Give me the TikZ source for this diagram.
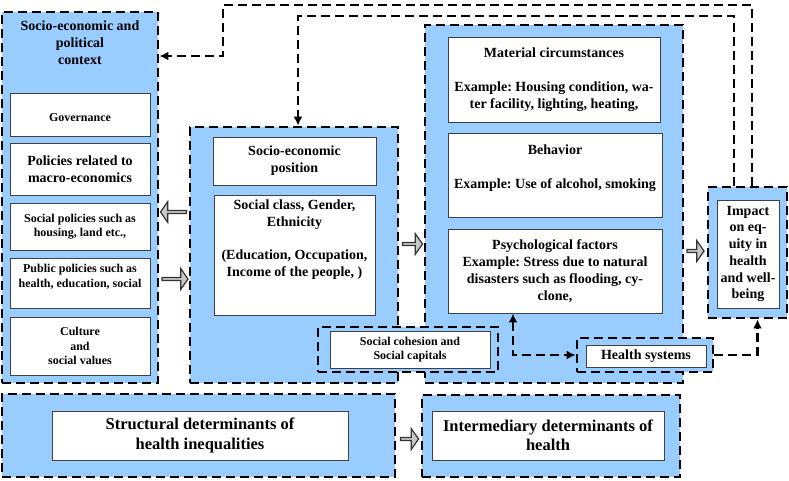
\documentclass[tikz,border=0pt]{standalone}
\usepackage{fontspec}
\setmainfont{Liberation Serif}
\usetikzlibrary{shapes.arrows,arrows.meta}
\frenchspacing

\definecolor{panelblue}{HTML}{99CCFF}
\definecolor{arrowgray}{HTML}{C8C8C8}
\newcommand\txtsmall{\fontsize{12}{14.4}\selectfont}
\newcommand\txtmed{\fontsize{14}{16.8}\selectfont}
\newcommand\txtlarge{\fontsize{16.5}{19.5}\selectfont}

\begin{document}
\begin{tikzpicture}[x=1pt,y=-1pt]
    \tikzset{
        boxsize/.style 2 args={minimum width=#1pt, minimum height=#2pt},
        panel/.style={draw, fill=panelblue, line width=2.8pt,
            dash pattern=on 9pt off 5pt, inner sep=0pt},
        card/.style={draw=black!75, fill=white, line width=0.9pt,
            align=center, inner sep=2pt},
        blockarrow/.style={single arrow, draw=black!80, fill=arrowgray,
            line width=1.2pt, inner sep=0pt, minimum height=#1pt,
            minimum width=21pt, single arrow head extend=3.5pt,
            single arrow tip angle=110},
        fb/.style={line width=2.8pt, dash pattern=on 9pt off 5pt,
            -{Latex[length=9pt,width=9pt]}},
    }
    \useasboundingbox (0,0) rectangle (789,480);

    % structural side
    \node[panel, boxsize={156}{371}] (ctx) at (80,197.5) {};
    \node[font=\bfseries\txtmed, align=center] (ctxtitle) at (80,43)
        {Socio-economic and\\political\\context};
    \node[card, boxsize={140}{43}, font=\bfseries\txtsmall] (gov) at (80,114.5)
        {\mbox{}\\Governance};
    \node[card, boxsize={140}{52}, font=\bfseries\txtmed] (macro) at (80,169)
        {Policies related to\\macro-economics};
    \node[card, boxsize={140}{47}, font=\bfseries\txtsmall] (socpol) at (80,226.5)
        {Social policies such as\\housing, land etc.,};
    \node[card, boxsize={140}{50}, font=\bfseries\txtsmall] (pubpol) at (80,283)
        {Public policies such as\\health, education, social\\\mbox{}};
    \node[card, boxsize={140}{58}, font=\bfseries\txtsmall] (culture) at (80,346)
        {Culture\\and\\social values};

    \node[panel, boxsize={208}{256}] (mid) at (294,255) {};
    \node[card, boxsize={163}{48}, font=\bfseries\txtmed] (sep) at (294.5,161)
        {Socio-economic\\position};
    \node[card, boxsize={161}{120}, font=\bfseries\txtmed] (strat) at (294.5,255)
        {Social class, Gender,\\Ethnicity\\\mbox{}\\(Education, Occupation,\\Income of the people, )\\\mbox{}\\\mbox{}};

    % intermediary side
    \node[panel, boxsize={258}{358}] (inter) at (554,204) {};
    \node[card, boxsize={212}{85}, font=\bfseries\txtmed] (mat) at (554,79.5)
        {Material circumstances\\\mbox{}\\Example: Housing condition, wa-\\ter facility, lighting, heating,};
    \node[card, boxsize={214}{84}, font=\bfseries\txtmed] (behav) at (555,175)
        {Behavior\\\mbox{}\\Example: Use of alcohol, smoking\\\mbox{}};
    \node[card, boxsize={214}{84}, font=\bfseries\txtmed] (psy) at (555,271)
        {Psychological factors\\Example: Stress due to natural\\disasters such as flooding, cy-\\clone,};

    \node[panel, boxsize={180}{45}] (coho) at (408,349.5) {};
    \node[card, boxsize={160}{37}, font=\bfseries\txtsmall] (coh) at (410,349.5)
        {Social cohesion and\\Social capitals};

    \node[panel, boxsize={136}{34}] (hso) at (645,355) {};
    \node[card, boxsize={120}{22}, font=\bfseries\txtmed] (hs) at (646,356)
        {Health systems};

    \node[panel, boxsize={79}{131}] (impo) at (747.5,252.5) {};
    \node[card, boxsize={62}{108}, font=\bfseries\fontsize{14}{16.7}\selectfont] (imp) at (748,254)
        {Impact\\on eq-\\uity in\\health\\and well-\\being};

    % legend row
    \node[panel, boxsize={393}{83}] (structo) at (198.5,435.5) {};
    \node[card, boxsize={296}{49}, font=\bfseries\txtlarge] (struct) at (200,435.5)
        {Structural determinants of\\health inequalities};
    \node[panel, boxsize={258}{82}] (intero) at (551,436) {};
    \node[card, boxsize={232}{49}, font=\bfseries\txtlarge] (intertxt) at (548,435.5)
        {Intermediary determinants of\\health};

    \node[blockarrow=26, shape border rotate=180] (arrL) at (174,212) {};
    \node[blockarrow=26] (arrR) at (174.5,279) {};
    \node[blockarrow=20] (arrM) at (412,244) {};
    \node[blockarrow=17] (arrI) at (695,251) {};
    \node[blockarrow=18] (arrB) at (409,439) {};

    % feedback loops
    \coordinate (loopA) at (752,5);
    \coordinate (loopB) at (223,5);
    \coordinate (loopC) at (223,56);
    \draw[fb] (impo.north -| loopA) -- (loopA) -- (loopB) -- (loopC) -- (ctx.east |- loopC);
    \coordinate (loopD) at (734,16);
    \coordinate (loopE) at (298,16);
    \draw[fb] (impo.north -| loopD) -- (loopD) -- (loopE) -- (mid.north -| loopE);
    \coordinate (psyfoot) at (513,357);
    \draw[fb, {Latex[length=9pt,width=9pt]}-{Latex[length=9pt,width=9pt]}]
        (psy.south -| psyfoot) |- (hso.west);
    \draw[fb] (hso.east) -| ([xshift=10pt]impo.south);
\end{tikzpicture}
\end{document}
